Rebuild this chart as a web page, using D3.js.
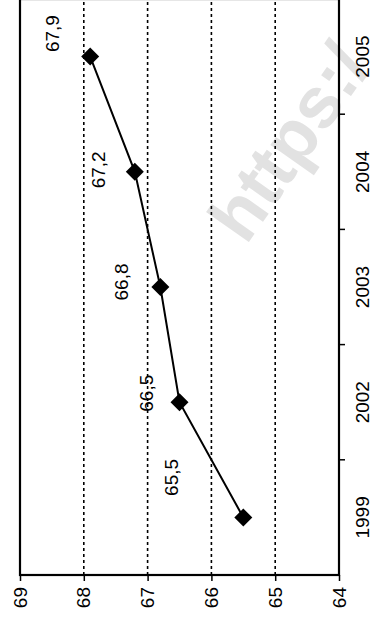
<!DOCTYPE html>
<html>
<head>
<meta charset="utf-8">
<script src="https://cdn.jsdelivr.net/npm/d3@7"></script>
<style>
  html, body { margin: 0; padding: 0; background: #fff; }
  svg { display: block; }
  text { font-family: "Liberation Sans", Arial, sans-serif; }
</style>
</head>
<body>
<svg id="chart" width="374" height="624"></svg>
<script>
// Years on the category axis and the value for each year
const years = ["1999", "2002", "2003", "2004", "2005"];
const values = [65.5, 66.5, 66.8, 67.2, 67.9];
// Value axis ticks
const valueTicks = [64, 65, 66, 67, 68, 69];
// Printed labels (decimal comma)
const valueLabels = ["65,5", "66,5", "66,8", "67,2", "67,9"];

const svg = d3.select("#chart");

// Faint site watermark behind the chart
svg.append("text")
  .attr("transform", "translate(246,246) rotate(-55)")
  .attr("font-size", 72)
  .attr("font-weight", "bold")
  .attr("fill", "#e2e2e2")
  .text("https:/");

// The chart is laid out upright, then turned a quarter turn counter-clockwise
const W = 576;   // length of the category axis
const H = 319;   // length of the value axis
const g = svg.append("g").attr("transform", "translate(20,575) rotate(-90)");

const x = d3.scaleBand().domain(years).range([0, W]).padding(0);
const y = d3.scaleLinear().domain([64, 69]).range([H, 0]);

// Dashed gridlines at the inner value ticks
g.append("g")
  .selectAll("line")
  .data(valueTicks.filter(t => t > 64 && t < 69))
  .join("line")
  .attr("x1", 0).attr("x2", W)
  .attr("y1", d => y(d)).attr("y2", d => y(d))
  .attr("stroke", "#000")
  .attr("stroke-width", 1.6)
  .attr("stroke-dasharray", "3,3");

// Plot frame
g.append("rect")
  .attr("x", 0).attr("y", 0).attr("width", W).attr("height", H)
  .attr("fill", "none").attr("stroke", "#000").attr("stroke-width", 2.2);

// Value axis
const yAxis = g.append("g")
  .call(d3.axisLeft(y).tickValues(valueTicks).tickFormat(d3.format("d")).tickSize(6).tickPadding(6));
yAxis.select(".domain").remove();
yAxis.selectAll(".tick line").attr("stroke", "#000").attr("stroke-width", 1.5);
yAxis.selectAll(".tick text")
  .attr("font-size", 19)
  .attr("fill", "#000")
  .attr("font-family", "'Liberation Sans', Arial, sans-serif");

// Category axis: ticks on band boundaries, labels at band centres
const bounds = years.map(d => x(d)).slice(1);
g.append("g")
  .selectAll("line")
  .data(bounds)
  .join("line")
  .attr("x1", d => d).attr("x2", d => d)
  .attr("y1", H).attr("y2", H + 6)
  .attr("stroke", "#000").attr("stroke-width", 1.5);

g.append("g")
  .selectAll("text")
  .data(years)
  .join("text")
  .attr("x", d => x(d) + x.bandwidth() / 2)
  .attr("y", H + 30)
  .attr("text-anchor", "middle")
  .attr("font-size", 19)
  .attr("fill", "#000")
  .text(d => d);

// Series line
const pts = years.map((d, i) => [x(d) + x.bandwidth() / 2, y(values[i])]);
g.append("path")
  .attr("d", d3.line()(pts))
  .attr("fill", "none")
  .attr("stroke", "#000")
  .attr("stroke-width", 2);

// Diamond markers
g.append("g")
  .selectAll("path")
  .data(pts)
  .join("path")
  .attr("transform", p => `translate(${p[0]},${p[1]})`)
  .attr("d", "M0,-9L9,0L0,9L-9,0Z")
  .attr("fill", "#000");

// Value labels, nudged clear of the line
const labelNudge = [[40, -72], [9, -33], [5, -39], [2, -36], [23, -38]];
g.append("g")
  .selectAll("text")
  .data(years)
  .join("text")
  .attr("x", (d, i) => x(d) + x.bandwidth() / 2 + labelNudge[i][0])
  .attr("y", (d, i) => y(values[i]) + labelNudge[i][1])
  .attr("dy", "0.35em")
  .attr("text-anchor", "middle")
  .attr("font-size", 19)
  .attr("fill", "#000")
  .text((d, i) => valueLabels[i]);
</script>
</body>
</html>
